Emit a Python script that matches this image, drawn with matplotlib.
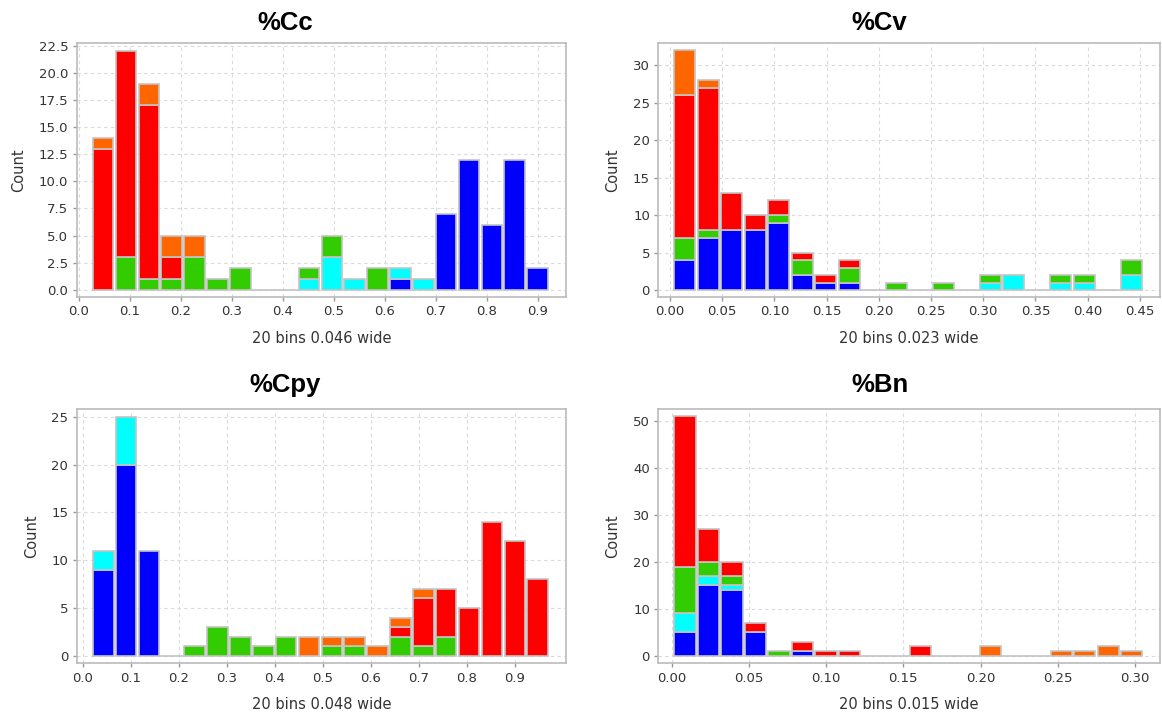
import numpy as np
import matplotlib
matplotlib.use("Agg")
import matplotlib.pyplot as plt

# Stack order, bottom to top
SERIES_COLORS = ["#0000FF", "#00FFFF", "#33CC00", "#FF0000", "#FF6600"]

# %Cc  (20 bins)
CC_RANGE = (0.025, 0.922)
CC_BLUE = [0, 0, 0, 0, 0, 0, 0, 0, 0, 0, 0, 0, 0, 1, 0, 7, 12, 6, 12, 2]
CC_CYAN = [0, 0, 0, 0, 0, 0, 0, 0, 0, 1, 3, 1, 0, 1, 1, 0, 0, 0, 0, 0]
CC_GREEN = [0, 3, 1, 1, 3, 1, 2, 0, 0, 1, 2, 0, 2, 0, 0, 0, 0, 0, 0, 0]
CC_RED = [13, 19, 16, 2, 0, 0, 0, 0, 0, 0, 0, 0, 0, 0, 0, 0, 0, 0, 0, 0]
CC_ORANGE = [1, 0, 2, 2, 2, 0, 0, 0, 0, 0, 0, 0, 0, 0, 0, 0, 0, 0, 0, 0]

# %Cv
CV_RANGE = (0.003, 0.453)
CV_BLUE = [4, 7, 8, 8, 9, 2, 1, 1, 0, 0, 0, 0, 0, 0, 0, 0, 0, 0, 0, 0]
CV_CYAN = [0, 0, 0, 0, 0, 0, 0, 0, 0, 0, 0, 0, 0, 1, 2, 0, 1, 1, 0, 2]
CV_GREEN = [3, 1, 0, 0, 1, 2, 0, 2, 0, 1, 0, 1, 0, 1, 0, 0, 1, 1, 0, 2]
CV_RED = [19, 19, 5, 2, 2, 1, 1, 1, 0, 0, 0, 0, 0, 0, 0, 0, 0, 0, 0, 0]
CV_ORANGE = [6, 1, 0, 0, 0, 0, 0, 0, 0, 0, 0, 0, 0, 0, 0, 0, 0, 0, 0, 0]

# %Cpy
CPY_RANGE = (0.019, 0.972)
CPY_BLUE = [9, 20, 11, 0, 0, 0, 0, 0, 0, 0, 0, 0, 0, 0, 0, 0, 0, 0, 0, 0]
CPY_CYAN = [2, 5, 0, 0, 0, 0, 0, 0, 0, 0, 0, 0, 0, 0, 0, 0, 0, 0, 0, 0]
CPY_GREEN = [0, 0, 0, 0, 1, 3, 2, 1, 2, 0, 1, 1, 0, 2, 1, 2, 0, 0, 0, 0]
CPY_RED = [0, 0, 0, 0, 0, 0, 0, 0, 0, 0, 0, 0, 0, 1, 5, 5, 5, 14, 12, 8]
CPY_ORANGE = [0, 0, 0, 0, 0, 0, 0, 0, 0, 2, 1, 1, 1, 1, 1, 0, 0, 0, 0, 0]

# %Bn
BN_RANGE = (0.001, 0.3055)
BN_BLUE = [5, 15, 14, 5, 0, 1, 0, 0, 0, 0, 0, 0, 0, 0, 0, 0, 0, 0, 0, 0]
BN_CYAN = [4, 2, 1, 0, 0, 0, 0, 0, 0, 0, 0, 0, 0, 0, 0, 0, 0, 0, 0, 0]
BN_GREEN = [10, 3, 2, 0, 1, 0, 0, 0, 0, 0, 0, 0, 0, 0, 0, 0, 0, 0, 0, 0]
BN_RED = [32, 7, 3, 2, 0, 2, 1, 1, 0, 0, 2, 0, 0, 0, 0, 0, 0, 0, 0, 0]
BN_ORANGE = [0, 0, 0, 0, 0, 0, 0, 0, 0, 0, 0, 0, 0, 2, 0, 0, 1, 1, 2, 1]

PANELS = [
    {
        "title": "%Cc", "xlabel": "20 bins 0.046 wide", "range": CC_RANGE,
        "series": [CC_BLUE, CC_CYAN, CC_GREEN, CC_RED, CC_ORANGE],
        "rect": [0.066, 0.5845, 0.421, 0.355], "title_xy": (0.245, 0.958),
        "xlim": (-0.0045, 0.955), "ylim": (-0.62, 22.72),
        "xticks": np.arange(0, 0.91, 0.1), "xfmt": "{:.1f}",
        "yticks": np.arange(0, 22.6, 2.5), "yfmt": "{:.1f}",
    },
    {
        "title": "%Cv", "xlabel": "20 bins 0.023 wide", "range": CV_RANGE,
        "series": [CV_BLUE, CV_CYAN, CV_GREEN, CV_RED, CV_ORANGE],
        "rect": [0.5665, 0.5845, 0.4315, 0.355], "title_xy": (0.757, 0.958),
        "xlim": (-0.0112, 0.469), "ylim": (-0.89, 32.94),
        "xticks": np.arange(0, 0.451, 0.05), "xfmt": "{:.2f}",
        "yticks": np.arange(0, 31, 5), "yfmt": "{:.0f}",
    },
    {
        "title": "%Cpy", "xlabel": "20 bins 0.048 wide", "range": CPY_RANGE,
        "series": [CPY_BLUE, CPY_CYAN, CPY_GREEN, CPY_RED, CPY_ORANGE],
        "rect": [0.066, 0.071, 0.421, 0.3557], "title_xy": (0.245, 0.451),
        "xlim": (-0.0125, 1.007), "ylim": (-0.79, 25.77),
        "xticks": np.arange(0, 0.91, 0.1), "xfmt": "{:.1f}",
        "yticks": np.arange(0, 26, 5), "yfmt": "{:.0f}",
    },
    {
        "title": "%Bn", "xlabel": "20 bins 0.015 wide", "range": BN_RANGE,
        "series": [BN_BLUE, BN_CYAN, BN_GREEN, BN_RED, BN_ORANGE],
        "rect": [0.5665, 0.071, 0.4315, 0.3557], "title_xy": (0.757, 0.451),
        "xlim": (-0.0087, 0.316), "ylim": (-1.62, 52.5),
        "xticks": np.arange(0, 0.301, 0.05), "xfmt": "{:.2f}",
        "yticks": np.arange(0, 51, 10), "yfmt": "{:.0f}",
    },
]

EDGE = "#C4C4C4"
TEXT = "#333333"

fig = plt.figure(figsize=(11.62, 7.14), dpi=100)

for p in PANELS:
    ax = fig.add_axes(p["rect"])
    edges = np.linspace(p["range"][0], p["range"][1], 21)
    width = edges[1] - edges[0]
    lefts = edges[:-1]
    bottom = np.zeros(20)
    totals = np.sum(p["series"], axis=0)

    # empty bins show as a flat gray line at zero
    for i in range(20):
        if totals[i] == 0:
            ax.plot([lefts[i], lefts[i] + width], [0, 0], color=EDGE,
                    linewidth=1.2, zorder=2)

    for vals, color in zip(p["series"], SERIES_COLORS):
        vals = np.array(vals, dtype=float)
        mask = vals > 0
        ax.bar(lefts[mask] + width * 0.05, vals[mask], width=width * 0.9,
               bottom=bottom[mask], align="edge", color=color,
               edgecolor=EDGE, linewidth=1.2, zorder=3)
        bottom += vals

    ax.set_xlim(*p["xlim"])
    ax.set_ylim(*p["ylim"])
    ax.set_xticks(p["xticks"])
    ax.set_xticklabels([p["xfmt"].format(v) for v in p["xticks"]])
    ax.set_yticks(p["yticks"])
    ax.set_yticklabels([p["yfmt"].format(v) for v in p["yticks"]])
    ax.grid(True, color="#DADADA", linestyle=(0, (3, 3)), linewidth=0.8, zorder=0)
    ax.set_axisbelow(True)
    for s in ax.spines.values():
        s.set_color("#BBBBBB")
        s.set_linewidth(1.2)
    ax.tick_params(direction="out", length=3, width=1, color="#999999",
                   labelsize=9.5, labelcolor=TEXT, pad=3)
    # titles sit centred over the whole panel, not just the plot area
    tx, ty = p["title_xy"]
    fig.text(tx, ty, p["title"], fontsize=18.5, fontweight="bold",
             family="Liberation Sans", ha="center", va="baseline")
    ax.set_xlabel(p["xlabel"], fontsize=10.5, color=TEXT, labelpad=9)
    ax.set_ylabel("Count", fontsize=10.5, color=TEXT, labelpad=9)

fig.savefig("out.png", dpi=100)
